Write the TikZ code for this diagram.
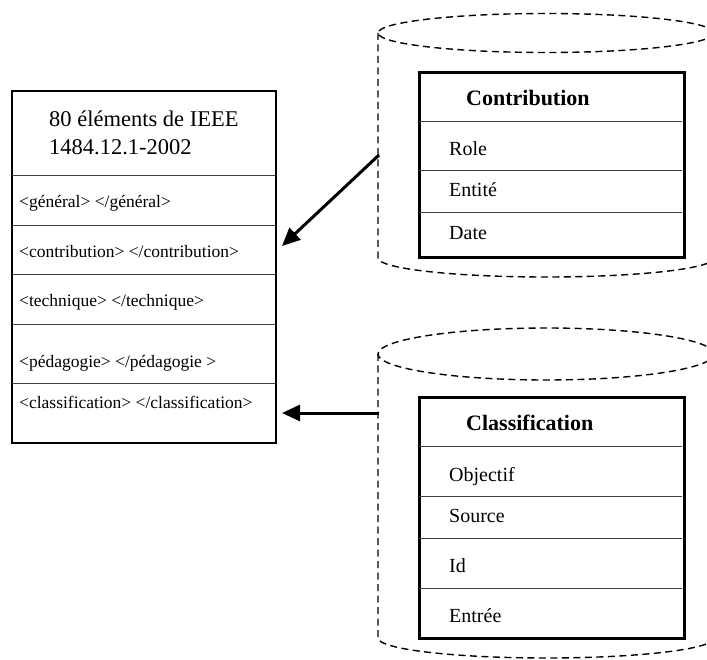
\documentclass[tikz,border=0pt]{standalone}
\usepackage{fontspec}
\setmainfont{Liberation Serif}
\newfontfamily\timesface{Liberation Serif}
\usetikzlibrary{arrows.meta}
\begin{document}
\begin{tikzpicture}[x=1pt,y=-1pt,
  outerbox/.style={draw, line width=2pt, inner sep=0pt, anchor=north west},
  tablebox/.style={draw, line width=3pt, inner sep=0pt, anchor=north west},
  divider/.style={draw=black!75, line width=1pt},
  cylline/.style={draw, line width=1.4pt, dash pattern=on 7pt off 4.5pt},
  link/.style={draw, line width=3pt, -{Triangle[length=18pt,width=16pt]}},
  headtext/.style={anchor=base west, inner sep=0pt, font=\timesface\fontsize{22.5}{27}\selectfont},
  rowtext/.style={anchor=base west, inner sep=0pt, font=\timesface\fontsize{17.5}{21}\selectfont},
  titletext/.style={anchor=base west, inner sep=0pt, font=\timesface\fontsize{22}{26}\selectfont\bfseries},
  fieldtext/.style={anchor=base west, inner sep=0pt, font=\timesface\fontsize{20}{24}\selectfont}]

\useasboundingbox (0,0) rectangle (707,660);

% ---- IEEE 1484.12.1-2002 element list ----
\node[outerbox, minimum width=264pt, minimum height=352pt] (ieee) at (11,90) {};
\foreach \y in {176,226,275,325,383}
  \draw[divider] (12,\y) -- (275,\y);
\node[headtext] (head1) at (49,127) {80 éléments de IEEE};
\node[headtext] (head2) at (49,155) {1484.12.1-2002};
\node[rowtext] (rgen)   at (19,208) {<général> </général>};
\node[rowtext] (rcon)   at (19,258) {<contribution> </contribution>};
\node[rowtext] (rtech)  at (19,307) {<technique> </technique>};
\node[rowtext] (rped)   at (19,367) {<pédagogie> </pédagogie >};
\node[rowtext] (rclass) at (19,408) {<classification> </classification>};

% ---- upper cylinder (Contribution) ----
\draw[cylline] (546,33) ellipse [x radius=168pt, y radius=19.5pt];
\draw[cylline] (378,33) -- (378,258)
  arc [start angle=180, end angle=360, x radius=168pt, y radius=19pt];
\node[tablebox, minimum width=265pt, minimum height=185pt] (contrib) at (418,71) {};
\foreach \y in {122,171,213}
  \draw[divider] (419,\y) -- (682,\y);
\node[titletext] (ctitle) at (466,106) {Contribution};
\node[fieldtext] (crole) at (449,156) {Role};
\node[fieldtext] (cent)  at (449,197) {Entité};
\node[fieldtext] (cdate) at (449,240) {Date};

% ---- lower cylinder (Classification) ----
\draw[cylline] (546,354) ellipse [x radius=168pt, y radius=26pt];
\draw[cylline] (378,354) -- (378,638)
  arc [start angle=180, end angle=360, x radius=168pt, y radius=20pt];
\node[tablebox, minimum width=265pt, minimum height=241pt] (classif) at (418,396) {};
\foreach \y in {446,496,538,588}
  \draw[divider] (419,\y) -- (682,\y);
\node[titletext] (ktitle) at (466,430) {Classification};
\node[fieldtext] (kobj) at (449,481) {Objectif};
\node[fieldtext] (ksrc) at (449,522) {Source};
\node[fieldtext] (kid)  at (449,572) {Id};
\node[fieldtext] (kent) at (449,622) {Entrée};

% ---- links from the cylinders to the element list ----
\coordinate (cylA) at (379,155);
\coordinate (cylB) at (379,413);
\coordinate (inCon)   at (282,246);
\coordinate (inClass) at (282,413);
\draw[link] (cylA) -- (inCon);
\draw[link] (cylB) -- (inClass);
\end{tikzpicture}
\end{document}
